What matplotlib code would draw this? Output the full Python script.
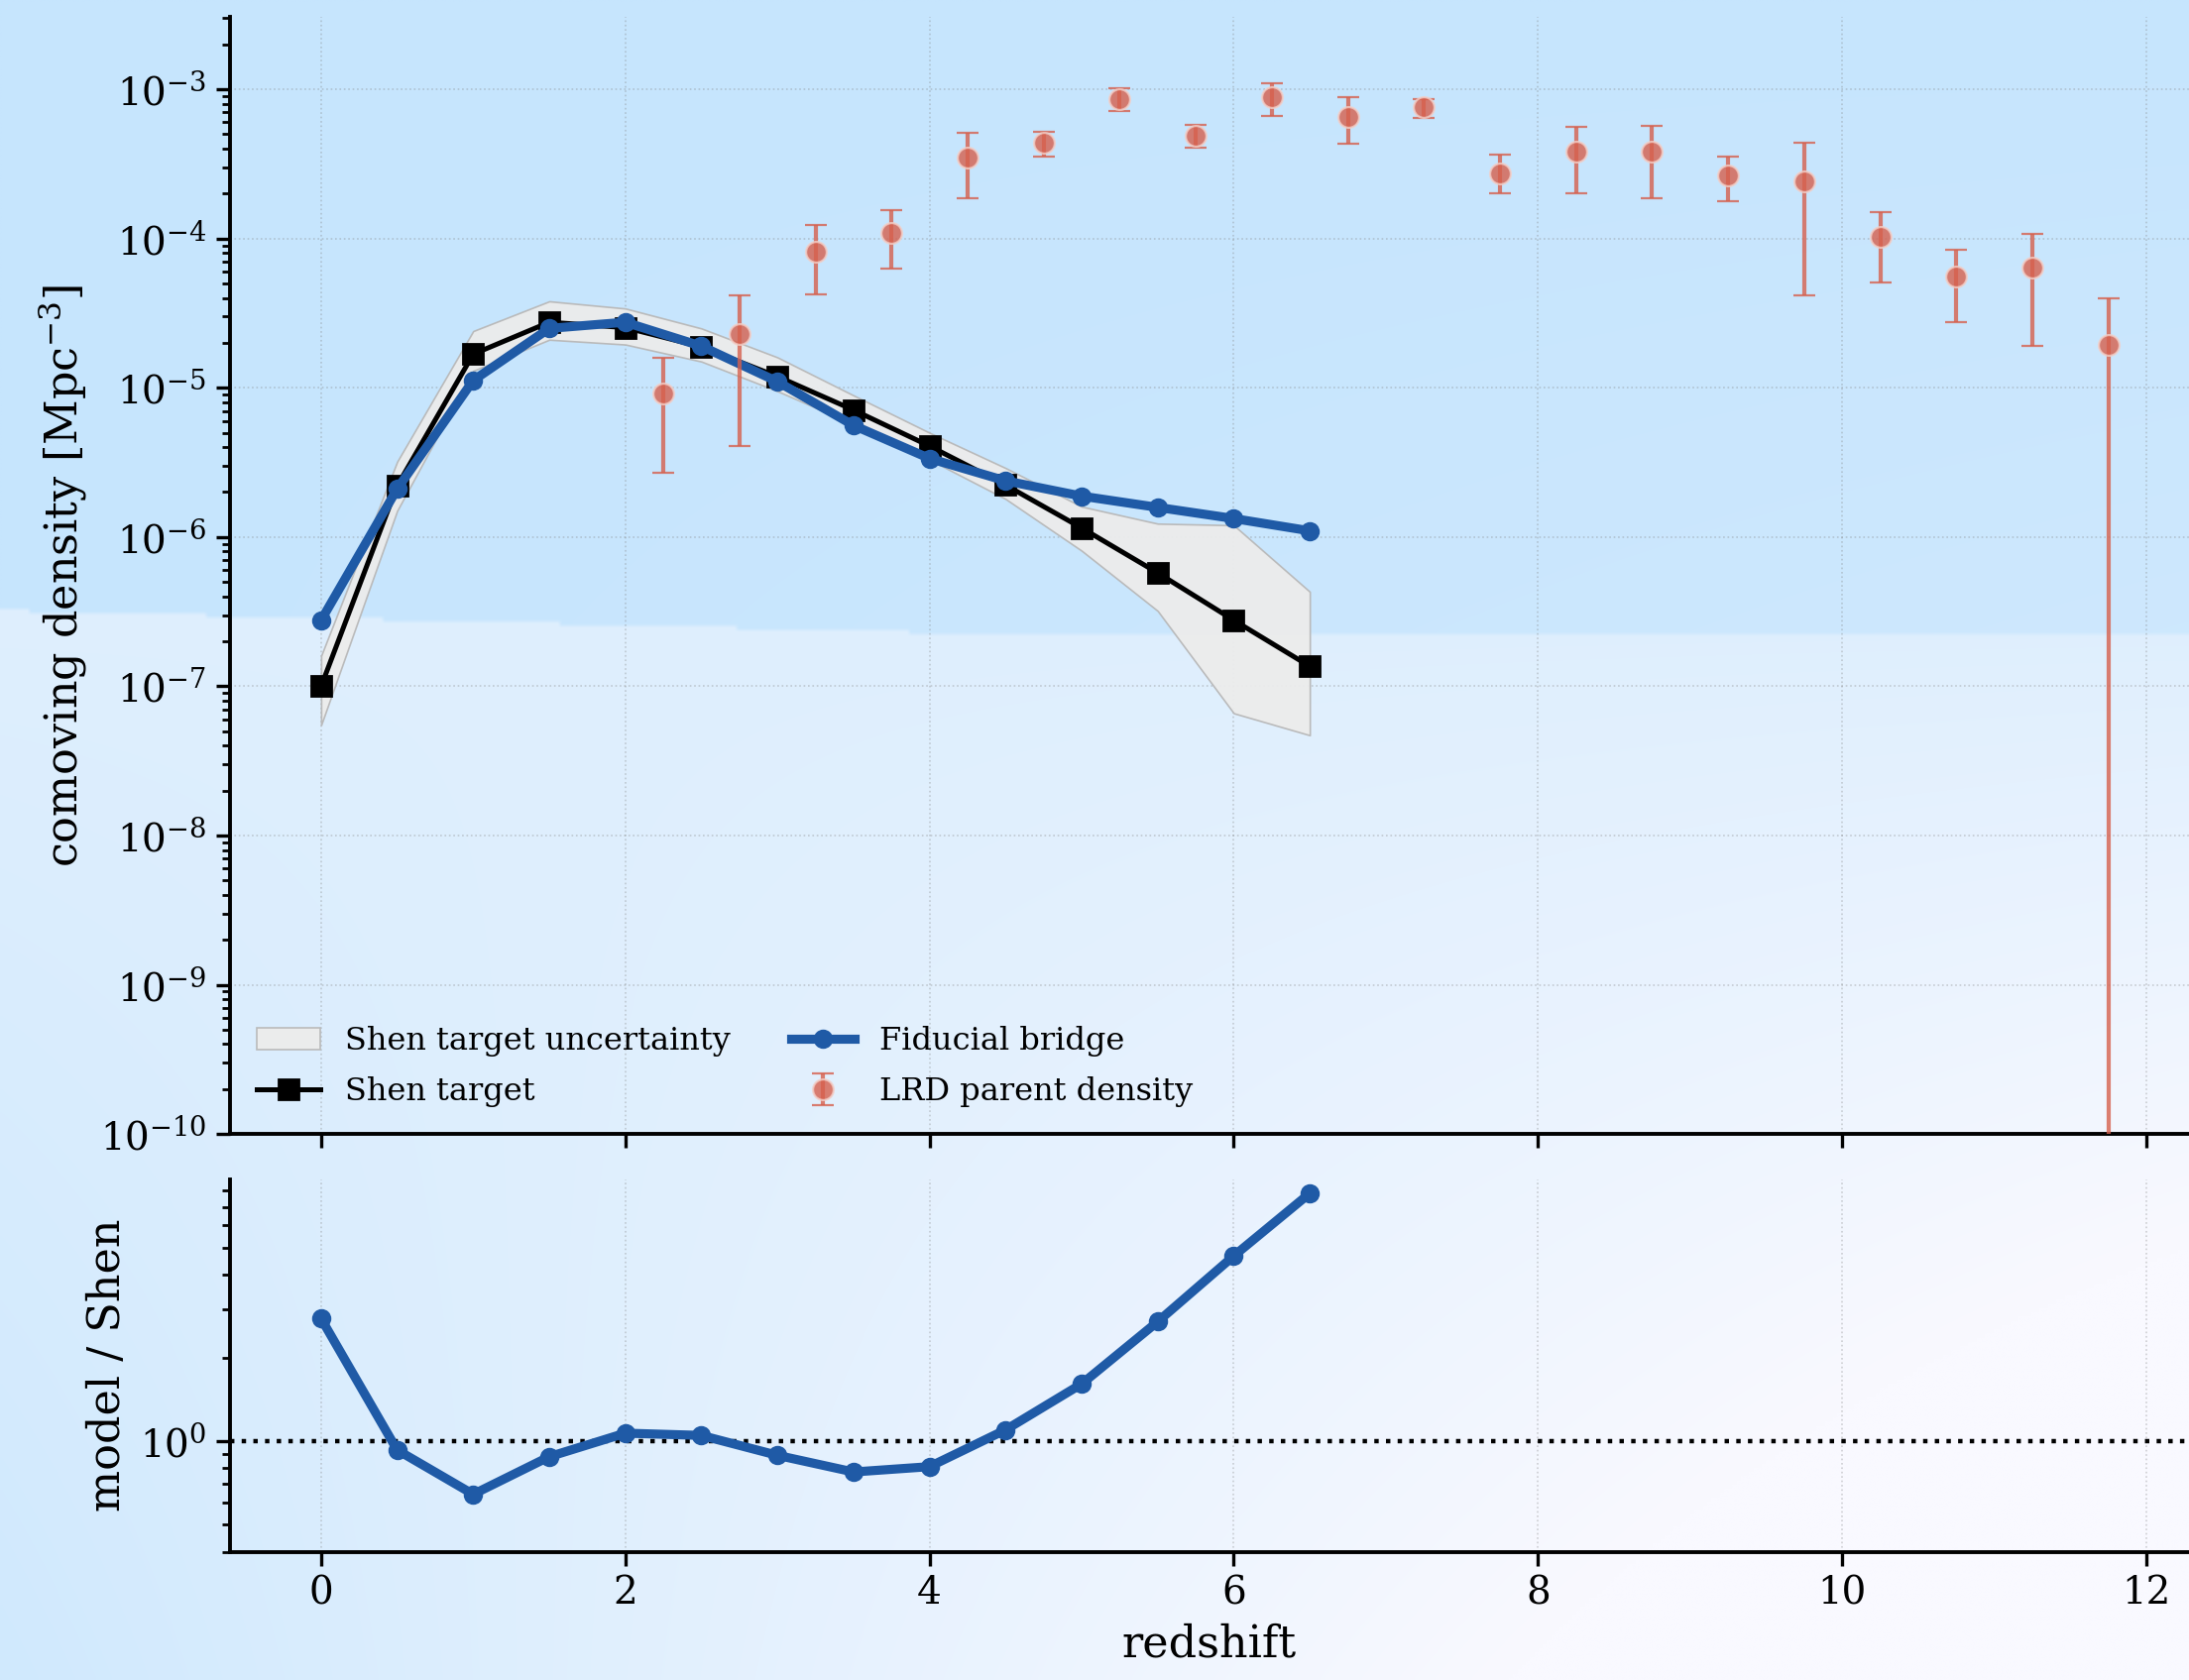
import numpy as np
import matplotlib
matplotlib.use("Agg")
import matplotlib.pyplot as plt
from matplotlib.ticker import LogLocator, NullFormatter, FixedLocator

plt.rcParams['font.family'] = ['DejaVu Serif']
plt.rcParams['mathtext.fontset'] = 'dejavuserif'

# Shen target and fiducial model on the same redshift grid
z = [0.0, 0.5, 1.0, 1.5, 2.0, 2.5, 3.0, 3.5, 4.0, 4.5, 5.0, 5.5, 6.0, 6.5]
shen = [1.0e-7, 2.2e-6, 1.68e-5, 2.75e-5, 2.53e-5, 1.88e-5, 1.19e-5,
        7.1e-6, 4.07e-6, 2.23e-6, 1.15e-6, 5.75e-7, 2.77e-7, 1.36e-7]
shen_lo = [5.5e-8, 1.5e-6, 1.3e-5, 2.1e-5, 1.95e-5, 1.5e-5, 9.5e-6,
           5.7e-6, 3.3e-6, 1.8e-6, 8.1e-7, 3.2e-7, 6.6e-8, 4.7e-8]
shen_hi = [1.6e-7, 3.2e-6, 2.4e-5, 3.8e-5, 3.4e-5, 2.5e-5, 1.6e-5,
           8.9e-6, 5.0e-6, 2.9e-6, 1.6e-6, 1.23e-6, 1.2e-6, 4.3e-7]
model = [2.77e-7, 2.1e-6, 1.12e-5, 2.5e-5, 2.75e-5, 1.9e-5, 1.1e-5,
         5.6e-6, 3.36e-6, 2.38e-6, 1.88e-6, 1.58e-6, 1.33e-6, 1.10e-6]
ratio = [2.77, 0.93, 0.644, 0.88, 1.07, 1.05, 0.89,
         0.775, 0.81, 1.10, 1.61, 2.70, 4.66, 7.84]

# LRD parent density points
z_lrd = [2.25, 2.75, 3.25, 3.75, 4.25, 4.75, 5.25, 5.75, 6.25, 6.75, 7.25,
         7.75, 8.25, 8.75, 9.25, 9.75, 10.25, 10.75, 11.25, 11.75]
lrd = [9.2e-6, 2.28e-5, 8.1e-5, 1.09e-4, 3.48e-4, 4.4e-4, 8.6e-4, 4.9e-4,
       8.8e-4, 6.5e-4, 7.6e-4, 2.75e-4, 3.8e-4, 3.8e-4, 2.64e-4, 2.42e-4,
       1.02e-4, 5.6e-5, 6.4e-5, 1.95e-5]
lrd_lo = [2.7e-6, 4.07e-6, 4.2e-5, 6.3e-5, 1.87e-4, 3.56e-4, 7.2e-4, 4.05e-4,
          6.6e-4, 4.3e-4, 6.4e-4, 2.0e-4, 2.0e-4, 1.87e-4, 1.79e-4, 4.15e-5,
          5.1e-5, 2.76e-5, 1.91e-5, 0.0]
lrd_hi = [1.58e-5, 4.15e-5, 1.24e-4, 1.54e-4, 5.1e-4, 5.2e-4, 1.02e-3, 5.8e-4,
          1.09e-3, 8.8e-4, 8.6e-4, 3.64e-4, 5.6e-4, 5.7e-4, 3.56e-4, 4.4e-4,
          1.51e-4, 8.4e-5, 1.07e-4, 3.96e-5]

blue = '#1f5aa6'
red = '#d6604d'

fig = plt.figure(figsize=(11.04, 8.475), dpi=200)

# background gradient
H, W = 400, 520
yy, xx = np.mgrid[0:1:H * 1j, 0:1:W * 1j]
top_col = np.array([198, 229, 253]) / 255.
light = np.array([249, 249, 255]) / 255.
deep = np.array([208, 233, 253]) / 255.
bnd = 0.363 + 0.014 * np.clip(xx / 0.45, 0, 1)
s = np.clip((yy - 0.37) / 0.63, 0, 1)
t = np.clip(0.35 + 1.1 * xx * s - 0.35 * (1 - xx) * s, 0, 1)
low = deep[None, None, :] * (1 - t[..., None]) + light[None, None, :] * t[..., None]
tu = np.clip(0.15 * xx * yy / 0.37, 0, 1)
up = top_col[None, None, :] * (1 - tu[..., None]) + light[None, None, :] * tu[..., None]
img = np.where((yy < bnd)[..., None], up, low)
bg = fig.add_axes([0, 0, 1, 1], zorder=-10)
bg.imshow(img, aspect='auto', extent=[0, 1, 0, 1], interpolation='bilinear')
bg.axis('off')

ax1 = fig.add_axes([0.105, 0.325, 0.895, 0.665])
ax2 = fig.add_axes([0.105, 0.0764, 0.895, 0.2216], sharex=ax1)
for ax in (ax1, ax2):
    ax.set_facecolor('none')
    ax.spines['top'].set_visible(False)
    ax.spines['right'].set_visible(False)
    ax.spines['left'].set_linewidth(1.4)
    ax.spines['bottom'].set_linewidth(1.4)
    ax.tick_params(which='major', direction='out', length=5, width=1.2, labelsize=14)
    ax.tick_params(which='minor', direction='out', length=2.8, width=1.0)

# top panel
ax1.fill_between(z, shen_lo, shen_hi, facecolor='#ececec', edgecolor='#b8b8b8',
                 linewidth=0.6, alpha=0.95, zorder=2, label='Shen target uncertainty')
ax1.plot(z, shen, color='black', lw=1.8, marker='s', ms=7.5, zorder=3, label='Shen target')
ax1.plot(z, model, color=blue, lw=3.3, marker='o', ms=6, zorder=4, label='Fiducial bridge')
lrd_arr = np.array(lrd)
yerr = [lrd_arr - np.array(lrd_lo), np.array(lrd_hi) - lrd_arr]
ax1.errorbar(z_lrd, lrd, yerr=yerr, fmt='o', color=red, ms=7.5, mec='#f3cfc8', mew=0.8,
             elinewidth=1.5, capsize=4, capthick=1.4, alpha=0.8, zorder=5,
             label='LRD parent density')
ax1.set_yscale('log')
ax1.set_ylim(1e-10, 3.06e-3)
ax1.set_xlim(-0.6, 12.28)
ax1.yaxis.set_major_locator(FixedLocator([1e-10, 1e-9, 1e-8, 1e-7, 1e-6, 1e-5, 1e-4, 1e-3]))
ax1.yaxis.set_minor_locator(LogLocator(base=10, subs=np.arange(2, 10), numticks=200))
ax1.yaxis.set_minor_formatter(NullFormatter())
ax1.set_ylabel(r'comoving density [Mpc$^{-3}$]', fontsize=16)
ax1.grid(True, which='major', ls=':', color='gray', lw=0.6, alpha=0.35)
ax1.tick_params(axis='x', labelbottom=False)
ax1.legend(loc='lower left', ncol=2, frameon=False, fontsize=11.5,
           handlelength=2.0, columnspacing=1.9, borderaxespad=0.45, labelspacing=0.62)

# bottom panel
ax2.plot(z, ratio, color=blue, lw=3.3, marker='o', ms=6, zorder=4)
ax2.axhline(1.0, color='black', ls=':', lw=1.6, zorder=3)
ax2.set_yscale('log')
ax2.set_ylim(0.4, 8.8)
ax2.yaxis.set_major_locator(FixedLocator([1.0]))
ax2.yaxis.set_minor_formatter(NullFormatter())
ax2.set_ylabel('model / Shen', fontsize=16)
ax2.set_xlabel('redshift', fontsize=16)
ax2.grid(True, axis='x', which='major', ls=':', color='gray', lw=0.6, alpha=0.35)
ax2.set_xticks([0, 2, 4, 6, 8, 10, 12])

fig.savefig('out.png', dpi=200)
